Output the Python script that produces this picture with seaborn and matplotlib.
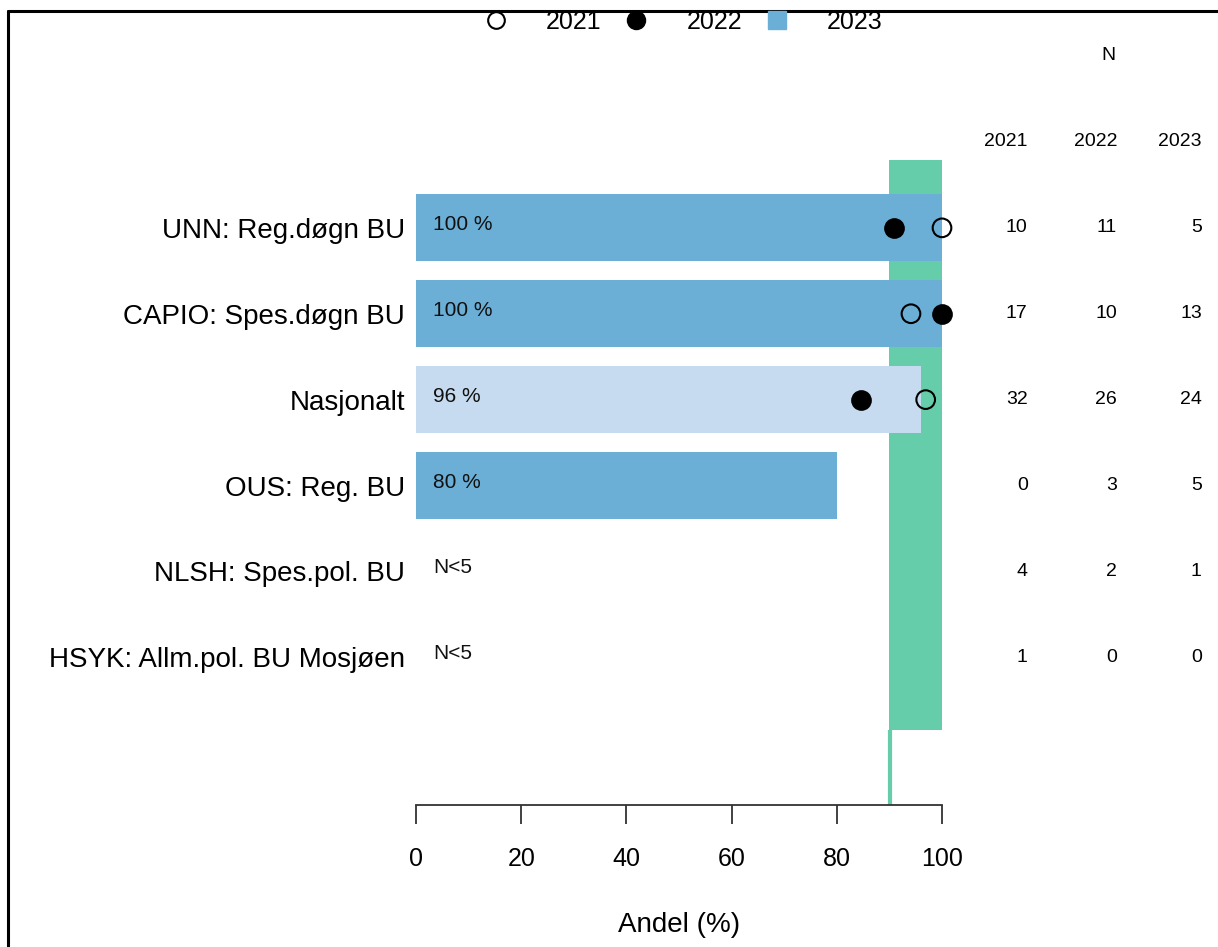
import numpy as np
import matplotlib
matplotlib.use("Agg")
import matplotlib.pyplot as plt
from matplotlib.lines import Line2D
import seaborn as sns

# data
categories = ["UNN: Reg.døgn BU", "CAPIO: Spes.døgn BU", "Nasjonalt", "OUS: Reg. BU",
              "NLSH: Spes.pol. BU", "HSYK: Allm.pol. BU Mosjøen"]
andel_2023 = [100, 100, 96, 80, np.nan, np.nan]
andel_2022 = [90.9, 100, 84.6, np.nan, np.nan, np.nan]
andel_2021 = [100, 94.1, 96.9, np.nan, np.nan, np.nan]
n_2021 = [10, 17, 32, 0, 4, 1]
n_2022 = [11, 10, 26, 3, 2, 0]
n_2023 = [5, 13, 24, 5, 1, 0]
years = ["2021", "2022", "2023"]
target_low, target_high = 90, 100

sns.set_style("white")
plt.rcParams['font.family'] = ['Liberation Sans', 'DejaVu Sans']
plt.rcParams['text.color'] = 'black'
plt.rcParams['axes.labelcolor'] = 'black'
plt.rcParams['xtick.color'] = 'black'
plt.rcParams['ytick.color'] = 'black'

W, H = 1218, 947
fig = plt.figure(figsize=(W / 100, H / 100), dpi=100)
ax = fig.add_axes([416 / W, 1 - 805 / H, 526 / W, 645 / H])

blue = "#6BAED6"
light = "#C6DBEF"
green = "#66CDAA"
pal = {c: (light if c == "Nasjonalt" else blue) for c in categories}

# target band (behind the bars)
y_top, y_band_bottom, y_bottom = -0.79, 5.85, 6.72
ax.fill_betweenx([y_top, y_band_bottom], target_low, target_high, color=green, lw=0, zorder=0)
ax.plot([target_low + 0.2, target_low + 0.2], [y_band_bottom, y_bottom], color=green, lw=3,
        zorder=0, solid_capstyle="butt")

sns.barplot(x=andel_2023, y=categories, hue=categories, palette=pal, orient="h",
            width=0.78, legend=False, ax=ax, zorder=2, saturation=1, linewidth=0)

sns.scatterplot(x=andel_2022, y=categories, ax=ax, s=180, color="black",
                edgecolor="black", linewidth=1.5, zorder=4, clip_on=False)
sns.scatterplot(x=andel_2021, y=categories, ax=ax, s=180, facecolor="none",
                edgecolor="black", linewidth=1.5, zorder=5, clip_on=False)

ax.set_xlim(0, 100)
ax.set_ylim(y_bottom, y_top)

# labels inside bars
for i, v in enumerate(andel_2023):
    txt = "N<5" if np.isnan(v) else f"{v:.0f} %"
    ax.text(3.2, i - 0.04, txt, ha="left", va="center", fontsize=15, color="#111111", zorder=6)

# N columns
col_x = [116.3, 133.3, 149.4]
for x, yr, ns in zip(col_x, years, [n_2021, n_2022, n_2023]):
    ax.text(x, y_top - 0.21, yr, ha="right", va="center", fontsize=14, clip_on=False)
    for i, n in enumerate(ns):
        ax.text(x, i, str(n), ha="right", va="center", fontsize=14, clip_on=False)
ax.text(1108 / W, 1 - 56 / H, "N", transform=fig.transFigure, ha="center", va="center", fontsize=14)

sns.despine(ax=ax, left=True, top=True, right=True)
ax.spines["bottom"].set_bounds(0, 100)
ax.spines["bottom"].set_color("#333333")
ax.spines["bottom"].set_linewidth(1.3)
ax.set_xticks([0, 20, 40, 60, 80, 100])
ax.tick_params(axis="x", bottom=True, direction="out", length=14, width=1.3, color="#333333",
               pad=16, labelsize=18)
ax.tick_params(axis="y", left=False, length=0, pad=8, labelsize=20)
ax.set_xlabel("Andel (%)", fontsize=20, labelpad=30)
ax.set_ylabel("")

handles = [
    Line2D([], [], ls="", marker="o", ms=12, mfc="white", mec="black", mew=1.5),
    Line2D([], [], ls="", marker="o", ms=13, mfc="black", mec="black"),
    Line2D([], [], ls="", marker="s", ms=13, mfc=blue, mec=blue),
]
fig.legend(handles, years, loc="center", bbox_to_anchor=(683 / W, 1 - 22 / H), ncol=3,
           frameon=False, fontsize=18, handlelength=1.0, handletextpad=1.5, columnspacing=0.9)

# frame lines at top and left
fig.add_artist(Line2D([8 / W, 1], [1 - 11 / H, 1 - 11 / H], transform=fig.transFigure,
                      color="black", lw=2.2))
fig.add_artist(Line2D([8 / W, 8 / W], [0, 1 - 11 / H], transform=fig.transFigure,
                      color="black", lw=2.2))

fig.savefig("out.png", dpi=100)
